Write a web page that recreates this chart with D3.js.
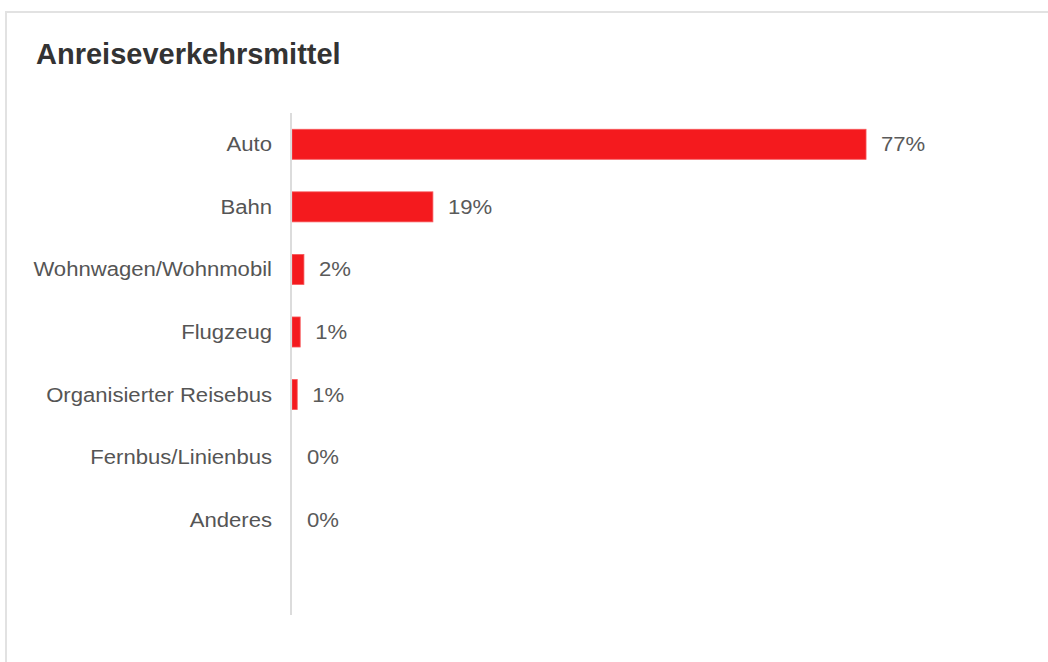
<!DOCTYPE html>
<html>
<head>
<meta charset="utf-8">
<script src="https://cdn.jsdelivr.net/npm/d3@7"></script>
<style>
  html, body { margin: 0; padding: 0; background: #fff; }
  svg { display: block; font-family: "Liberation Sans", Arial, sans-serif; }
</style>
</head>
<body>
<svg id="chart" width="1048" height="662"></svg>
<script>
// Travel modes and their shares (percent)
const categories = [
  "Auto",
  "Bahn",
  "Wohnwagen/Wohnmobil",
  "Flugzeug",
  "Organisierter Reisebus",
  "Fernbus/Linienbus",
  "Anderes"
];
const shares = [77, 18.9, 1.6, 1.1, 0.7, 0, 0];
const title = "Anreiseverkehrsmittel";

const svg = d3.select("#chart");
const W = 1048, H = 662;
const textStretch = 1.105;   // labels are set slightly wide

// card frame
svg.append("rect")
  .attr("x", 6).attr("y", 12)
  .attr("width", W + 20).attr("height", H + 20)
  .attr("fill", "#fff")
  .attr("stroke", "#e2e2e2")
  .attr("stroke-width", 2);

svg.append("text")
  .attr("x", 36).attr("y", 64)
  .attr("font-size", 29)
  .attr("font-weight", "bold")
  .attr("fill", "#333")
  .text(title);

const x0 = 292;
const x = d3.scaleLinear().domain([0, 100]).range([x0, x0 + 745.5]);

const rowStep = 62.57, plotTop = 113;
const y = d3.scaleBand()
  .domain(categories)
  .range([plotTop, plotTop + categories.length * rowStep])
  .paddingInner(0.52)
  .paddingOuter(0.26);

const data = categories.map((c, i) => ({ cat: c, v: shares[i] }));

// bars
svg.append("g")
  .selectAll("rect")
  .data(data)
  .join("rect")
  .attr("x", x(0))
  .attr("y", d => y(d.cat))
  .attr("width", d => x(d.v) - x(0))
  .attr("height", y.bandwidth())
  .attr("fill", "#f41a1e")
  .attr("stroke", d => d.v > 0 ? "#f7595c" : "none")
  .attr("stroke-width", 0.8);

// category axis line
svg.append("line")
  .attr("x1", 291).attr("x2", 291)
  .attr("y1", 113).attr("y2", 615)
  .attr("stroke", "#dcdcdc")
  .attr("stroke-width", 2);

// category labels
svg.append("g")
  .selectAll("text")
  .data(data)
  .join("text")
  .attr("transform", d => `translate(272,${y(d.cat) + y.bandwidth() / 2}) scale(${textStretch},1)`)
  .attr("dy", "0.35em")
  .attr("text-anchor", "end")
  .attr("font-size", 20)
  .attr("fill", "#555")
  .text(d => d.cat);

// value labels
const fmt = d => d3.format(".0f")(d) + "%";
svg.append("g")
  .selectAll("text")
  .data(data)
  .join("text")
  .attr("transform", d => `translate(${x(d.v) + 15},${y(d.cat) + y.bandwidth() / 2}) scale(${textStretch},1)`)
  .attr("dy", "0.35em")
  .attr("font-size", 20)
  .attr("fill", "#5a5a5a")
  .text(d => fmt(d.v));
</script>
</body>
</html>
